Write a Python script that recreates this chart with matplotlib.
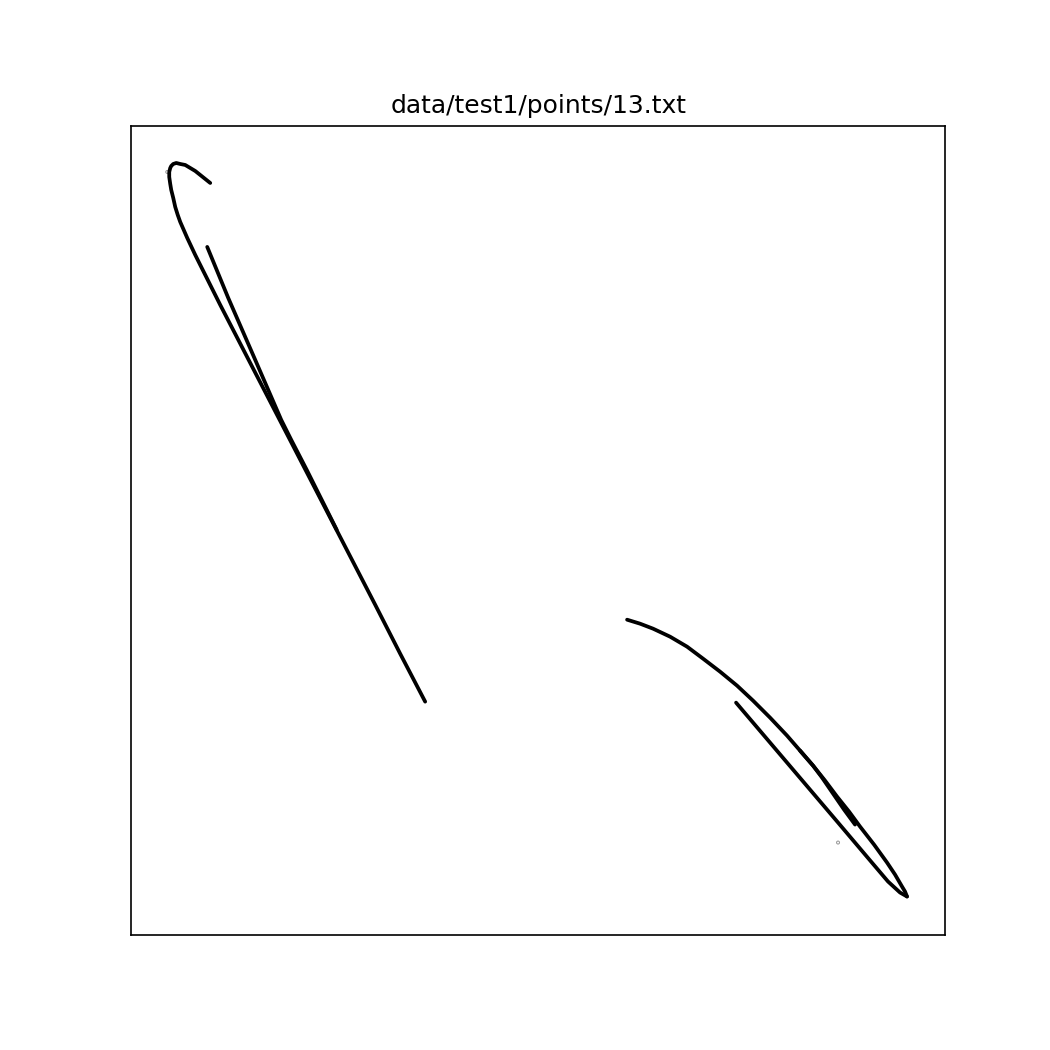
import matplotlib
matplotlib.use("Agg")
import matplotlib.pyplot as plt

# Curve traces (arbitrary plot units)
outer_left_x = [210, 205, 200, 195, 190, 185, 180, 176, 173, 171, 170, 169, 169, 170, 171, 173, 175, 177.5, 180, 183.5, 187, 195, 203, 211, 220, 251, 282, 313, 344, 375, 400, 425]
outer_left_y = [183, 179, 175, 171, 168, 165, 164, 163, 164, 166, 168, 172, 177, 184, 190, 198, 207, 215, 222, 230, 238, 255, 271, 287, 305, 365, 425, 485, 545, 605, 654, 702]

inner_left_x = [207, 228, 255, 281, 291, 306.5, 321.5, 336.5]
inner_left_y = [247, 298, 360, 420, 440, 470, 500, 530]

upper_right_x = [627, 640, 653, 670, 687, 703, 720, 737, 753, 770, 787, 800, 813, 825, 837, 849, 860, 874, 887, 895, 902, 905, 907]
upper_right_y = [620, 624, 629, 637, 647, 659, 672, 686, 701, 718, 736, 751, 766, 781, 797, 812, 827, 845, 863, 875, 887, 892, 897]

lower_right_x = [907, 900, 888, 871, 838, 804, 770, 736]
lower_right_y = [897, 893, 882, 862, 823, 783, 743, 703]

branch_right_x = [800, 813, 822, 833, 844, 855]
branch_right_y = [751, 766, 778, 794, 810, 825]

stray_x = [167, 838]
stray_y = [172, 843]

fig = plt.figure(figsize=(7, 7), dpi=150)
ax = fig.add_subplot(111)

for xs, ys in [(outer_left_x, outer_left_y), (inner_left_x, inner_left_y),
               (upper_right_x, upper_right_y), (lower_right_x, lower_right_y),
               (branch_right_x, branch_right_y)]:
    ax.plot(xs, ys, color="black", lw=1.8, solid_joinstyle="round", solid_capstyle="round")

ax.scatter(stray_x, stray_y, s=2, facecolors="none", edgecolors="#999999", linewidths=0.5)

ax.set_xlim(131, 945)
ax.set_ylim(935, 126)
ax.set_xticks([])
ax.set_yticks([])
ax.set_title("data/test1/points/13.txt")

fig.savefig("out.png", dpi=150)
